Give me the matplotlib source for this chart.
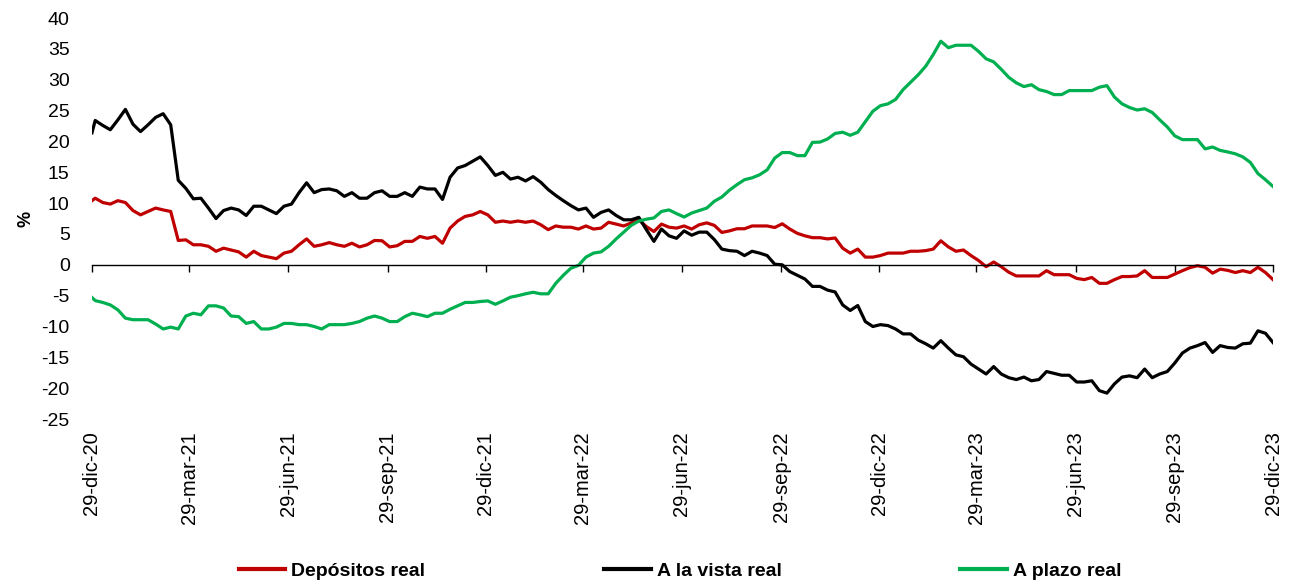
import matplotlib
matplotlib.use('Agg')
import matplotlib.pyplot as plt
import pandas as pd

# weekly observations: first one on 29-dic-20, then every Friday up to 29-dic-23
dates = [pd.Timestamp('2020-12-29')] + list(pd.date_range('2021-01-01', '2023-12-29', freq='7D'))

depositos = [
    10.4, 10.8, 10.1, 9.85, 10.4, 10.1, 8.8, 8.1, 8.65, 9.2, 8.9, 8.65, 3.95, 4.05, 3.25, 3.25,
    3.0, 2.2, 2.7, 2.4, 2.1, 1.25, 2.2, 1.5, 1.25, 1.0, 1.9, 2.2, 3.25, 4.2, 3.0, 3.25,
    3.6, 3.25, 3.0, 3.5, 2.9, 3.25, 3.95, 3.9, 2.9, 3.1, 3.8, 3.8, 4.6, 4.3, 4.6, 3.5,
    5.95, 7.1, 7.85, 8.1, 8.65, 8.1, 6.9, 7.1, 6.9, 7.1, 6.9, 7.1, 6.5, 5.7, 6.3, 6.1,
    6.1, 5.8, 6.3, 5.8, 5.95, 6.9, 6.6, 6.3, 6.8, 7.3, 6.2, 5.4, 6.6, 6.1, 5.95, 6.3,
    5.8, 6.5, 6.8, 6.4, 5.25, 5.5, 5.85, 5.85, 6.3, 6.3, 6.3, 6.05, 6.65, 5.8, 5.1, 4.7,
    4.4, 4.4, 4.2, 4.35, 2.7, 1.9, 2.55, 1.25, 1.25, 1.5, 1.9, 1.9, 1.9, 2.2, 2.2, 2.3,
    2.55, 3.9, 2.9, 2.2, 2.4, 1.5, 0.7, -0.3, 0.45, -0.3, -1.2, -1.8, -1.8, -1.8, -1.8, -0.95,
    -1.6, -1.6, -1.6, -2.2, -2.4, -2.05, -3.0, -3.0, -2.4, -1.9, -1.9, -1.8, -0.95, -2.05, -2.05, -2.05,
    -1.5, -0.95, -0.45, -0.15, -0.4, -1.35, -0.7, -0.9, -1.25, -0.95, -1.25, -0.4, -1.25, -2.4,
]

a_la_vista = [
    21.4, 23.4, 22.6, 21.9, 23.5, 25.2, 22.8, 21.6, 22.7, 23.9, 24.5, 22.7, 13.7, 12.4, 10.7, 10.8,
    9.2, 7.5, 8.8, 9.2, 8.9, 8.0, 9.5, 9.5, 8.9, 8.3, 9.5, 9.85, 11.7, 13.3, 11.7, 12.2,
    12.3, 12.0, 11.1, 11.7, 10.8, 10.8, 11.7, 12.0, 11.1, 11.1, 11.7, 11.1, 12.6, 12.3, 12.3, 10.6,
    14.2, 15.7, 16.1, 16.8, 17.5, 16.1, 14.5, 15.0, 13.9, 14.2, 13.6, 14.3, 13.4, 12.2, 11.25, 10.4,
    9.6, 8.9, 9.2, 7.7, 8.5, 8.9, 8.0, 7.3, 7.3, 7.7, 5.7, 3.8, 5.8, 4.7, 4.3, 5.5,
    4.8, 5.3, 5.3, 4.1, 2.55, 2.3, 2.2, 1.5, 2.2, 1.9, 1.5, 0.1, 0.0, -1.1, -1.7, -2.3,
    -3.5, -3.5, -4.1, -4.4, -6.5, -7.4, -6.6, -9.2, -10.0, -9.7, -9.85, -10.4, -11.2, -11.2, -12.2, -12.8,
    -13.5, -12.3, -13.5, -14.6, -14.9, -16.1, -16.9, -17.7, -16.5, -17.7, -18.3, -18.6, -18.2, -18.8, -18.6, -17.3,
    -17.6, -17.9, -17.9, -19.0, -19.0, -18.8, -20.4, -20.8, -19.3, -18.2, -18.0, -18.3, -16.9, -18.3, -17.7, -17.3,
    -15.9, -14.3, -13.5, -13.1, -12.6, -14.2, -13.1, -13.4, -13.5, -12.8, -12.7, -10.7, -11.1, -12.6,
]

a_plazo = [
    -5.3, -5.8, -6.1, -6.5, -7.3, -8.65, -8.9, -8.9, -8.9, -9.6, -10.4, -10.1, -10.4, -8.3, -7.85, -8.1,
    -6.65, -6.65, -7.0, -8.3, -8.4, -9.5, -9.2, -10.4, -10.4, -10.1, -9.5, -9.5, -9.7, -9.7, -10.0, -10.4,
    -9.7, -9.7, -9.7, -9.5, -9.2, -8.65, -8.3, -8.65, -9.2, -9.2, -8.4, -7.85, -8.1, -8.4, -7.85, -7.85,
    -7.2, -6.65, -6.1, -6.1, -5.95, -5.85, -6.4, -5.85, -5.25, -5.0, -4.7, -4.45, -4.7, -4.7, -3.0, -1.7,
    -0.55, -0.1, 1.25, 1.9, 2.1, 3.0, 4.2, 5.3, 6.4, 7.1, 7.4, 7.6, 8.65, 8.9, 8.3, 7.75,
    8.4, 8.8, 9.2, 10.3, 11.0, 12.1, 13.0, 13.8, 14.1, 14.6, 15.4, 17.3, 18.2, 18.2, 17.7, 17.7,
    19.85, 19.9, 20.4, 21.3, 21.5, 21.0, 21.5, 23.2, 24.9, 25.8, 26.1, 26.8, 28.4, 29.6, 30.8, 32.2,
    34.1, 36.25, 35.2, 35.6, 35.6, 35.6, 34.6, 33.4, 32.9, 31.7, 30.4, 29.5, 28.9, 29.2, 28.4, 28.1,
    27.6, 27.6, 28.25, 28.25, 28.25, 28.25, 28.8, 29.05, 27.2, 26.1, 25.5, 25.1, 25.3, 24.7, 23.5, 22.35,
    20.9, 20.3, 20.3, 20.3, 18.8, 19.1, 18.55, 18.3, 18.0, 17.5, 16.6, 14.8, 13.8, 12.7,
]

tick_dates = ['2020-12-29', '2021-03-29', '2021-06-29', '2021-09-29', '2021-12-29',
              '2022-03-29', '2022-06-29', '2022-09-29', '2022-12-29', '2023-03-29',
              '2023-06-29', '2023-09-29', '2023-12-29']
tick_labels = ['29-dic-20', '29-mar-21', '29-jun-21', '29-sep-21', '29-dic-21',
               '29-mar-22', '29-jun-22', '29-sep-22', '29-dic-22', '29-mar-23',
               '29-jun-23', '29-sep-23', '29-dic-23']
y_ticks = list(range(-25, 41, 5))


def main():
    plt.rcParams['font.family'] = ['Liberation Sans', 'DejaVu Sans']
    plt.rcParams['axes.unicode_minus'] = False

    fig = plt.figure(figsize=(12.99, 5.84), dpi=100)
    ax = fig.add_axes([0.0708, 0.2825, 0.9092, 0.6865])

    ax.plot(dates, depositos, color='#C00000', lw=2.3, label='Depósitos real')
    ax.plot(dates, a_la_vista, color='#000000', lw=2.3, label='A la vista real')
    ax.plot(dates, a_plazo, color='#00B050', lw=2.3, label='A plazo real')

    tick_pos = pd.to_datetime(tick_dates)
    ax.set_xlim(tick_pos[0], tick_pos[-1])
    ax.set_ylim(-25, 40)

    # axis line drawn through zero, tick marks hanging from it
    for side in ('top', 'right', 'left'):
        ax.spines[side].set_visible(False)
    ax.spines['bottom'].set_position(('data', 0))
    ax.spines['bottom'].set_linewidth(1.0)
    ax.set_xticks(tick_pos)
    ax.tick_params(axis='x', direction='out', length=5, width=1.0, labelbottom=False)

    # date labels at the bottom of the plot area
    sec = ax.secondary_xaxis('bottom')
    sec.set_xticks(tick_pos)
    sec.set_xticklabels(tick_labels, rotation=90, fontsize=14.5)
    sec.tick_params(axis='x', length=0, pad=9)
    sec.spines['bottom'].set_visible(False)

    ax.set_yticks(y_ticks)
    ax.tick_params(axis='y', length=0, pad=16, labelsize=14)
    ax.set_ylabel('%', fontsize=13, fontweight='bold', labelpad=5)

    leg = ax.legend(loc='center', bbox_to_anchor=(680 / 1299, 1 - 571 / 584),
                    bbox_transform=fig.transFigure, ncol=3, frameon=False,
                    handlelength=2.4, handletextpad=0.3, columnspacing=9.2,
                    prop={'size': 14, 'weight': 'bold'})
    for line in leg.get_lines():
        line.set_linewidth(3)

    fig.savefig('out.png', dpi=100)


if __name__ == '__main__':
    main()
